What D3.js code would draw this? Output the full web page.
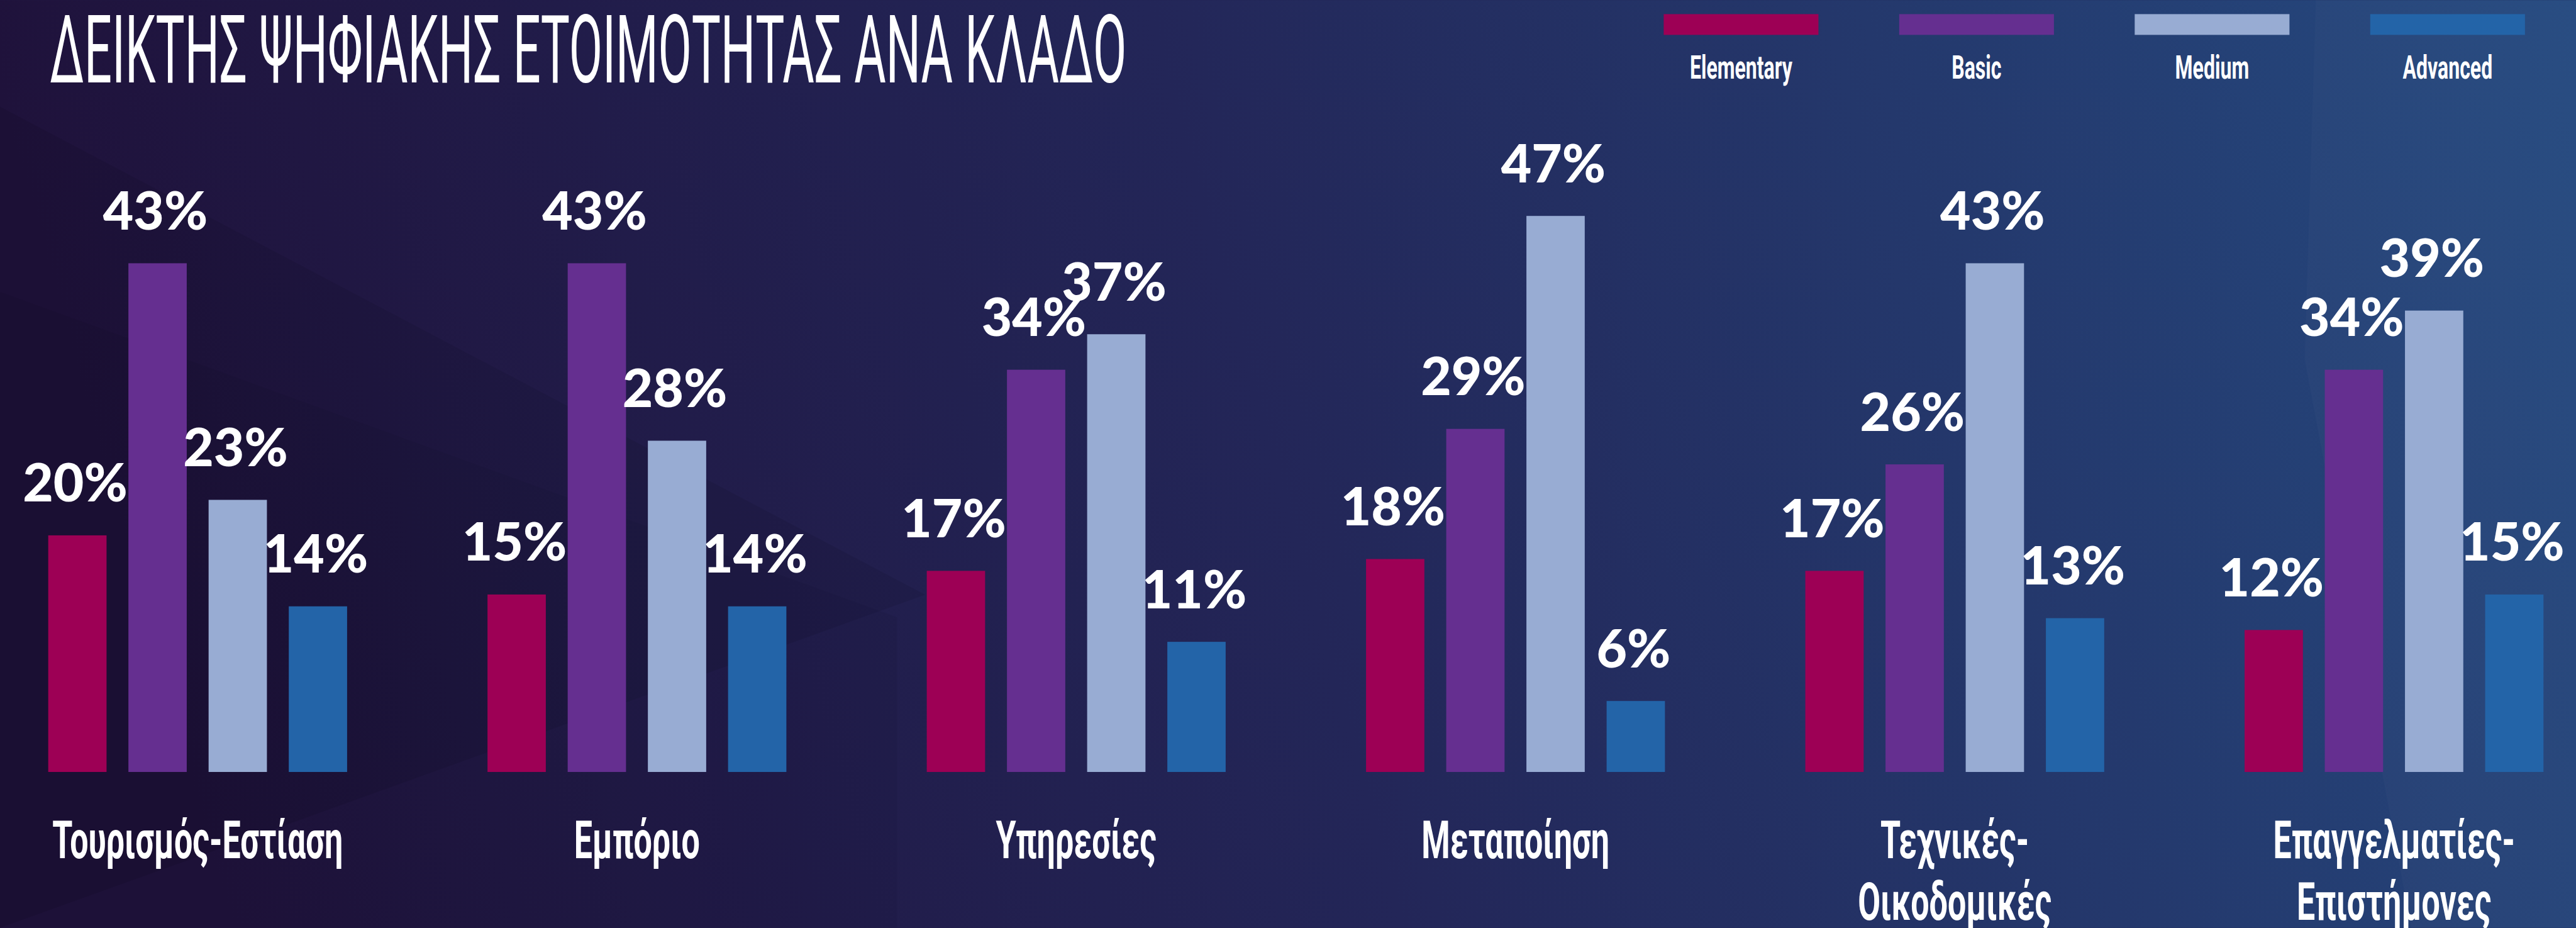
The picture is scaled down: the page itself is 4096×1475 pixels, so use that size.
<!DOCTYPE html>
<html>
<head>
<meta charset="utf-8">
<script src="https://cdn.jsdelivr.net/npm/d3@7"></script>
<style>
html, body { margin: 0; padding: 0; overflow: hidden; background: #211a48; }
</style>
</head>
<body>
<div id="viz"></div>
<script>

// reference size, the svg is scaled down to the window with the viewBox
var width = 4594
var height = 1654

var title = "ΔΕΙΚΤΗΣ ΨΗΦΙΑΚΗΣ ΕΤΟΙΜΟΤΗΤΑΣ ΑΝΑ ΚΛΑΔΟ"

var categories = ["Τουρισμός-Εστίαση", "Εμπόριο", "Υπηρεσίες", "Μεταποίηση", "Τεχνικές-\nΟικοδομικές", "Επαγγελματίες-\nΕπιστήμονες"]
var levels = ["Elementary", "Basic", "Medium", "Advanced"]
var levelColors = ["#9d0055", "#652f90", "#98acd3", "#2364a8"]

var elementary = [20, 15, 17, 18, 17, 12]
var basic = [43, 43, 34, 29, 26, 34]
var medium = [23, 28, 37, 47, 43, 39]
var advanced = [14, 14, 11, 6, 13, 15]

var series = [elementary, basic, medium, advanced]

var condensed = "Roboto, 'Noto Sans', sans-serif"
var squeeze = 0.62

var svg = d3.select("#viz")
	.append("svg")
	.attr("width", 4096)
	.attr("height", 1475)
	.attr("viewBox", "0 0 " + width + " " + height)
	.style("display", "block");

// background
var defs = svg.append("defs");
var bg = defs.append("linearGradient")
	.attr("id", "bg")
	.attr("x1", 0).attr("y1", 0.1)
	.attr("x2", 1).attr("y2", 0);
bg.append("stop").attr("offset", 0).attr("stop-color", "#1f123b");
bg.append("stop").attr("offset", 0.45).attr("stop-color", "#232658");
bg.append("stop").attr("offset", 1).attr("stop-color", "#254a80");

svg.append("rect")
	.attr("width", width)
	.attr("height", height)
	.attr("fill", "url(#bg)");

// faint shapes in the background
var shapes = [
	{pts: [[0, 190], [1650, 1060], [0, 1654]], fill: "#000", op: 0.07},
	{pts: [[0, 520], [1600, 1100], [1600, 1654], [0, 1654]], fill: "#000", op: 0.04},
	{pts: [[4130, 0], [4594, 0], [4594, 1654], [4300, 1654], [4110, 640]], fill: "#fff", op: 0.02}
];
svg.selectAll(".shape")
	.data(shapes)
	.enter()
	.append("polygon")
	.attr("class", "shape")
	.attr("points", function(d){ return d.pts.map(function(p){ return p.join(","); }).join(" "); })
	.attr("fill", function(d){ return d.fill; })
	.attr("fill-opacity", function(d){ return d.op; });

// title, squeezed to the width it has in the picture
var titleText = svg.append("text")
	.text(title)
	.attr("x", 0)
	.attr("y", 0)
	.attr("font-family", "Roboto, sans-serif")
	.attr("font-weight", 400)
	.attr("font-size", 168)
	.attr("fill", "#fff");
var titleW = titleText.node().getComputedTextLength();
titleText.attr("transform", "translate(89,147) scale(" + (1920 / titleW) + ",1)");

// scales
var x0 = d3.scaleBand()
	.domain(categories)
	.range([86, 4536])
	.paddingInner(0.3196);

var x1 = d3.scaleBand()
	.domain(levels)
	.range([0, x0.bandwidth()])
	.paddingInner(0.2727);

var y = d3.scaleLinear()
	.domain([0, 50])
	.range([1376, 321.5]);

var color = d3.scaleOrdinal()
	.domain(levels)
	.range(levelColors);

var rows = [];
categories.forEach(function(c, i){
	levels.forEach(function(l, j){
		rows.push({cat: c, level: l, value: series[j][i]});
	});
});

var groups = svg.selectAll(".group")
	.data(categories)
	.enter()
	.append("g")
	.attr("class", "group")
	.attr("transform", function(d){ return "translate(" + x0(d) + ",0)"; });

groups.selectAll("rect")
	.data(function(c){ return rows.filter(function(r){ return r.cat === c; }); })
	.enter()
	.append("rect")
	.attr("x", function(d){ return x1(d.level); })
	.attr("width", x1.bandwidth())
	.attr("y", function(d){ return y(d.value); })
	.attr("height", function(d){ return y(0) - y(d.value); })
	.attr("fill", function(d){ return color(d.level); });

groups.selectAll(".value")
	.data(function(c){ return rows.filter(function(r){ return r.cat === c; }); })
	.enter()
	.append("text")
	.attr("class", "value")
	.text(function(d){ return d.value + "%"; })
	.attr("x", function(d){ return x1(d.level) + x1.bandwidth() / 2 - 4; })
	.attr("y", function(d){ return y(d.value) - 60; })
	.attr("text-anchor", "middle")
	.attr("font-family", "Lato, 'Open Sans', sans-serif")
	.attr("font-weight", 900)
	.attr("font-size", 94)
	.attr("fill", "#fff");

// category labels, split on line breaks
var catLabels = groups.append("g")
	.attr("transform", function(){ return "translate(" + (x0.bandwidth() / 2) + ",1530) scale(" + squeeze + ",1)"; });

catLabels.selectAll("text")
	.data(function(c){ return c.split("\n"); })
	.enter()
	.append("text")
	.text(function(d){ return d; })
	.attr("x", 0)
	.attr("y", function(d, i){ return i * 110; })
	.attr("text-anchor", "middle")
	.attr("font-family", condensed)
	.attr("font-weight", 700)
	.attr("font-size", 94)
	.attr("fill", "#fff");

// legend
var legend = svg.selectAll(".legend")
	.data(levels)
	.enter()
	.append("g")
	.attr("class", "legend")
	.attr("transform", function(d, i){ return "translate(" + (2967 + i * 420) + ",0)"; });

legend.append("rect")
	.attr("x", 0)
	.attr("y", 25)
	.attr("width", 276)
	.attr("height", 37)
	.attr("fill", function(d){ return color(d); });

legend.append("text")
	.text(function(d){ return d; })
	.attr("transform", "translate(138,140) scale(" + squeeze + ",1)")
	.attr("text-anchor", "middle")
	.attr("font-family", condensed)
	.attr("font-weight", 700)
	.attr("font-size", 58)
	.attr("fill", "#fff");

</script>
</body>
</html>
